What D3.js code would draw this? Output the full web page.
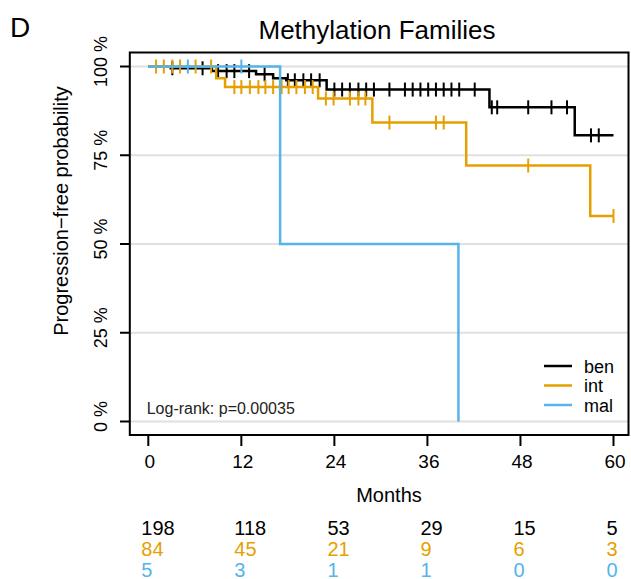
<!DOCTYPE html>
<html>
<head>
<meta charset="utf-8">
<script src="https://cdn.jsdelivr.net/npm/d3@7"></script>
<style>
	body { margin: 0; background: #fff; }
	svg { display: block; font-family: "Liberation Sans", Arial, sans-serif; }
</style>
</head>
<body>
<svg id="chart" width="631" height="579"></svg>
<script>
"use strict";

// curve data: step times and survival after each step, follow-up end, censor times
var groups = ["ben", "int", "mal"];
var benTimes = [0, 2.9, 8.2, 13.9, 16.1, 17.8, 23.0, 44.0, 55.0];
var benSurv = [1, 0.995, 0.987, 0.978, 0.967, 0.961, 0.935, 0.885, 0.806];
var benEnd = 60;
var benCensor = [3.1, 7.0, 9.0, 10.1, 11.1, 13.0, 15.0, 18.0, 18.9, 20.0, 21.0, 22.1,
	24.0, 25.0, 26.0, 27.1, 28.1, 29.1, 31.1, 33.1, 34.1, 35.1, 36.1, 37.1, 38.1, 39.1,
	40.1, 42.1, 44.3, 45.0, 49.0, 52.0, 54.0, 57.1, 58.1];
var intTimes = [0, 8.75, 9.9, 21.9, 28.9, 41.0, 57.0];
var intSurv = [1, 0.967, 0.942, 0.910, 0.842, 0.721, 0.579];
var intEnd = 60;
var intCensor = [1.0, 2.0, 3.1, 4.1, 6.1, 8.1, 11.1, 12.0, 13.1, 14.2, 15.1, 16.1, 17.2,
	18.1, 19.1, 20.2, 21.2, 22.9, 23.9, 26.0, 27.1, 28.0, 31.1, 37.1, 38.1, 49.0, 60.0];
var malTimes = [0, 17.0, 40.0];
var malSurv = [1, 0.5, 0];
var malEnd = 40;
var malCensor = [5.1, 12.0];

var riskTimes = [0, 12, 24, 36, 48, 60];
var benRisk = [198, 118, 53, 29, 15, 5];
var intRisk = [84, 45, 21, 9, 6, 3];
var malRisk = [5, 3, 1, 1, 0, 0];

var xTicks = [0, 12, 24, 36, 48, 60];
var yTicks = [0, 0.25, 0.5, 0.75, 1];
var yTickLabels = ["0 %", "25 %", "50 %", "75 %", "100 %"];

var colors = {ben: "#000000", int: "#E69F00", mal: "#56B4E9"};
var curves = [
	{name: "ben", times: benTimes, surv: benSurv, end: benEnd, censor: benCensor, risk: benRisk},
	{name: "int", times: intTimes, surv: intSurv, end: intEnd, censor: intCensor, risk: intRisk},
	{name: "mal", times: malTimes, surv: malSurv, end: malEnd, censor: malCensor, risk: malRisk}
];

var svg = d3.select("#chart");
var x = d3.scaleLinear().domain([0, 60]).range([148.3, 613.5]);
var y = d3.scaleLinear().domain([0, 1]).range([421.5, 66.5]);
var box = {left: 129.8, right: 628.5, top: 52.5, bottom: 435};

// grid
svg.append("g").selectAll("line").data(yTicks).enter().append("line")
	.attr("x1", box.left).attr("x2", box.right)
	.attr("y1", function(d) { return y(d); }).attr("y2", function(d) { return y(d); })
	.attr("stroke", "#e0e0e0").attr("stroke-width", 2);

function survAt(c, t) {
	var i, s = 1;
	for (i = 0; i < c.times.length; ++i) {
		if (c.times[i] <= t) { s = c.surv[i]; }
	}
	return s;
}

var line = d3.line()
	.x(function(d) { return x(d[0]); })
	.y(function(d) { return y(d[1]); })
	.curve(d3.curveStepAfter);

curves.forEach(function(c) {
	var pts = c.times.map(function(t, i) { return [t, c.surv[i]]; });
	if (c.end > c.times[c.times.length - 1]) {
		pts.push([c.end, c.surv[c.surv.length - 1]]);
	}
	svg.append("path").datum(pts).attr("d", line)
		.attr("fill", "none").attr("stroke", colors[c.name]).attr("stroke-width", 2.5);
	svg.append("g").selectAll("line").data(c.censor).enter().append("line")
		.attr("x1", function(d) { return x(d); }).attr("x2", function(d) { return x(d); })
		.attr("y1", function(d) { return y(survAt(c, d)) - 7; })
		.attr("y2", function(d) { return y(survAt(c, d)) + 7; })
		.attr("stroke", colors[c.name]).attr("stroke-width", 2);
});

// box
svg.append("rect").attr("x", box.left).attr("y", box.top)
	.attr("width", box.right - box.left).attr("height", box.bottom - box.top)
	.attr("fill", "none").attr("stroke", "#000").attr("stroke-width", 2);

// x axis
var xAxis = svg.append("g");
xAxis.selectAll("line").data(xTicks).enter().append("line")
	.attr("x1", function(d) { return x(d); }).attr("x2", function(d) { return x(d); })
	.attr("y1", box.bottom).attr("y2", 446)
	.attr("stroke", "#000").attr("stroke-width", 2);
xAxis.selectAll("text").data(xTicks).enter().append("text")
	.attr("x", function(d) { return x(d) + 1.5; }).attr("y", 468)
	.attr("text-anchor", "middle").attr("font-size", 19).text(function(d) { return d; });
svg.append("text").attr("x", 389).attr("y", 502).attr("text-anchor", "middle")
	.attr("font-size", 20).text("Months");

// y axis
var yAxis = svg.append("g");
yAxis.selectAll("line").data(yTicks).enter().append("line")
	.attr("x1", 120).attr("x2", box.left)
	.attr("y1", function(d) { return y(d); }).attr("y2", function(d) { return y(d); })
	.attr("stroke", "#000").attr("stroke-width", 2);
yAxis.selectAll("text").data(yTicks).enter().append("text")
	.attr("transform", function(d) { return "translate(106.5," + (y(d) - 5) + ") rotate(-90)"; })
	.attr("text-anchor", "middle").attr("font-size", 18)
	.text(function(d, i) { return yTickLabels[i]; });
svg.append("text").attr("transform", "translate(68,211) rotate(-90)")
	.attr("text-anchor", "middle").attr("font-size", 20)
	.text("Progression\u2212free probability");

// titles
svg.append("text").attr("x", 377).attr("y", 39).attr("text-anchor", "middle")
	.attr("font-size", 26).text("Methylation Families");
svg.append("text").attr("x", 10).attr("y", 37).attr("font-size", 28).text("D");

svg.append("text").attr("x", 146.7).attr("y", 414).attr("font-size", 16)
	.attr("fill", "#222").text("Log-rank: p=0.00035");

// legend
var legend = svg.append("g").selectAll("g").data(groups).enter().append("g")
	.attr("transform", function(d, i) { return "translate(0," + (366 + i * 19.5) + ")"; });
legend.append("line").attr("x1", 544).attr("x2", 572).attr("y1", 0).attr("y2", 0)
	.attr("stroke", function(d) { return colors[d]; }).attr("stroke-width", 2.5);
legend.append("text").attr("x", 584).attr("y", 6.5).attr("font-size", 18)
	.text(function(d) { return d; });

// numbers at risk
curves.forEach(function(c, r) {
	svg.append("g").selectAll("text").data(riskTimes).enter().append("text")
		.attr("x", function(d) { return x(d) - 7; })
		.attr("y", 534.5 + r * 21)
		.attr("font-size", 20).attr("fill", colors[c.name])
		.text(function(d, i) { return c.risk[i]; });
});
</script>
</body>
</html>
